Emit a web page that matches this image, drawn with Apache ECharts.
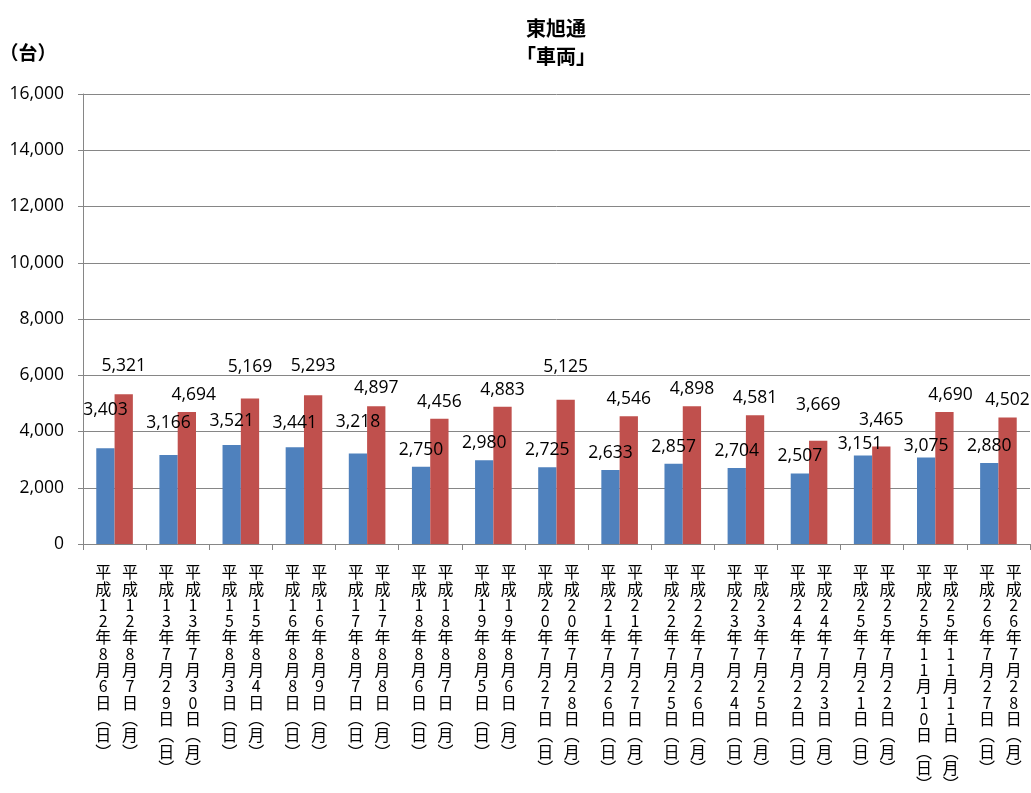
<!DOCTYPE html>
<html>
<head>
<meta charset="utf-8">
<title>東旭通「車両」</title>
<script src="https://cdn.jsdelivr.net/npm/echarts@6/dist/echarts.min.js"></script>
<style>
  html, body { margin: 0; padding: 0; background: #ffffff; }
  #chart { width: 1031px; height: 793px; }
</style>
</head>
<body>
<div id="chart"></div>
<script>
// Survey days: each pair is a Sunday and the following Monday
const sundayDates = [
  '平成12年8月6日（日）', '平成13年7月29日（日）', '平成15年8月3日（日）', '平成16年8月8日（日）',
  '平成17年8月7日（日）', '平成18年8月6日（日）', '平成19年8月5日（日）', '平成20年7月27日（日）',
  '平成21年7月26日（日）', '平成22年7月25日（日）', '平成23年7月24日（日）', '平成24年7月22日（日）',
  '平成25年7月21日（日）', '平成25年11月10日（日）', '平成26年7月27日（日）'
];
const mondayDates = [
  '平成12年8月7日（月）', '平成13年7月30日（月）', '平成15年8月4日（月）', '平成16年8月9日（月）',
  '平成17年8月8日（月）', '平成18年8月7日（月）', '平成19年8月6日（月）', '平成20年7月28日（月）',
  '平成21年7月27日（月）', '平成22年7月26日（月）', '平成23年7月25日（月）', '平成24年7月23日（月）',
  '平成25年7月22日（月）', '平成25年11月11日（月）', '平成26年7月28日（月）'
];

// Vehicle counts (台)
const sundayCounts = [3403, 3166, 3521, 3441, 3218, 2750, 2980, 2725, 2633, 2857, 2704, 2507, 3151, 3075, 2880];
const mondayCounts = [5321, 4694, 5169, 5293, 4897, 4456, 4883, 5125, 4546, 4898, 4581, 3669, 3465, 4690, 4502];

// Value axis range
const yMin = 0;
const yMax = 16000;
const yStep = 2000;

// Extra nudges [dx, dy] for value labels that were moved apart
const sundayLabelShift = [[0, -21], [0, -15], [0, -7], [0, -7], [0, -14], [0, 0], [0, 0], [0, 0],
                          [0, 0], [0, 0], [0, 0], [0, 0], [-3, 6], [0, 5], [0, 0]];
const mondayLabelShift = [[0, -11], [7, 0], [0, -15], [0, -12], [0, -1], [0, 0], [0, 0], [0, -16],
                          [0, 0], [0, 0], [0, 0], [0, -19], [0, -10], [6, 0], [0, 0]];

const withCommas = v => String(v).replace(/\B(?=(\d{3})+(?!\d))/g, ',');

// Stacked (vertical) writing: one character per line, brackets turned to vertical forms
function toVertical(s) {
  return Array.from(s).map(ch => ch === '（' ? '︵' : ch === '）' ? '︶' : ch);
}
function verticalPair(a, b) {
  const A = toVertical(a), B = toVertical(b);
  const rows = [];
  for (let i = 0; i < Math.max(A.length, B.length); i++) {
    rows.push('{c|' + (A[i] || '　') + '}{c|' + (B[i] || '　') + '}');
  }
  return rows.join('\n');
}

const labelFont = 'Open Sans';
const gridGray = '#868686';

const chart = echarts.init(document.getElementById('chart'), null, { renderer: 'canvas' });

chart.setOption({
  animation: false,
  backgroundColor: '#ffffff',
  title: {
    text: '東旭通\n「車両」',
    left: 551,
    top: 10,
    textAlign: 'center',
    textStyle: {
      fontFamily: 'Noto Sans CJK JP',
      fontSize: 20,
      fontWeight: 'bold',
      lineHeight: 27.5,
      color: '#000000'
    }
  },
  graphic: [{
    type: 'text',
    x: 28,
    y: 53,
    style: {
      text: '（台）',
      fontFamily: 'Noto Sans CJK JP',
      fontSize: 19,
      fontWeight: 'bold',
      fill: '#000000',
      align: 'center',
      verticalAlign: 'middle'
    }
  }],
  grid: {
    left: 83,
    right: 1,
    top: 94,
    bottom: 249,
    containLabel: false,
    outerBoundsMode: 'none'
  },
  xAxis: {
    type: 'category',
    data: sundayDates,
    boundaryGap: true,
    axisLine: { show: true, lineStyle: { color: gridGray, width: 1 } },
    axisTick: { show: true, length: 6, interval: 0, lineStyle: { color: gridGray } },
    axisLabel: {
      interval: 0,
      margin: 20,
      padding: [0, 0, 0, 4],
      formatter: (value, index) => verticalPair(sundayDates[index], mondayDates[index]),
      rich: {
        c: {
          width: 26.7,
          align: 'center',
          fontFamily: 'Noto Sans CJK JP',
          fontSize: 16,
          lineHeight: 16.3,
          color: '#000000'
        }
      }
    },
    splitLine: { show: false }
  },
  yAxis: {
    type: 'value',
    min: yMin,
    max: yMax,
    interval: yStep,
    axisLine: { show: true, lineStyle: { color: gridGray, width: 1 } },
    axisTick: { show: true, length: 5, lineStyle: { color: gridGray } },
    axisLabel: {
      margin: 19,
      fontFamily: labelFont,
      fontSize: 17.5,
      color: '#000000',
      formatter: v => withCommas(v)
    },
    splitLine: { show: true, lineStyle: { color: gridGray, width: 1 } }
  },
  series: [
    {
      name: '日曜日',
      type: 'bar',
      barWidth: 18.3,
      barGap: '0%',
      itemStyle: { color: '#4F81BD' },
      label: {
        show: true,
        position: 'top',
        distance: 7,
        fontFamily: labelFont,
        fontSize: 17.5,
        lineHeight: 20,
        color: '#000000',
        formatter: p => withCommas(p.value)
      },
      data: sundayCounts.map((v, i) => ({ value: v, label: { offset: sundayLabelShift[i] } }))
    },
    {
      name: '月曜日',
      type: 'bar',
      barWidth: 18.3,
      barGap: '0%',
      itemStyle: { color: '#C0504D' },
      label: {
        show: true,
        position: 'top',
        distance: 7,
        fontFamily: labelFont,
        fontSize: 17.5,
        lineHeight: 20,
        color: '#000000',
        formatter: p => withCommas(p.value)
      },
      data: mondayCounts.map((v, i) => ({ value: v, label: { offset: mondayLabelShift[i] } }))
    }
  ]
});
</script>
</body>
</html>
